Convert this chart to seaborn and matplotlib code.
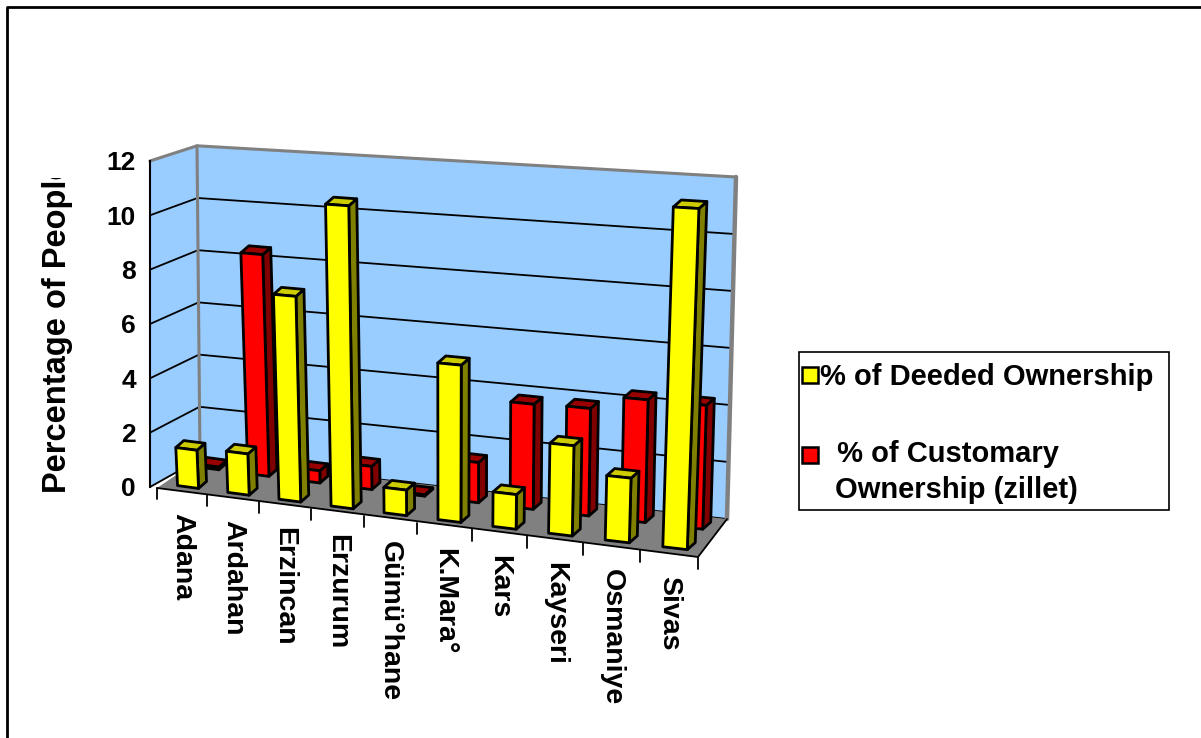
import numpy as np
import pandas as pd
import seaborn as sns
import matplotlib.pyplot as plt
import matplotlib.transforms as mtransforms
from matplotlib.patches import Polygon, Rectangle
from matplotlib.lines import Line2D

# --- DATA ---
provinces = ["Adana", "Ardahan", "Erzincan", "Erzurum", "Gümü°hane",
             "K.Mara°", "Kars", "Kayseri", "Osmaniye", "Sivas"]
deeded    = [1.4, 1.5, 7.4, 10.8, 0.9, 5.5, 1.2, 3.1, 2.2, 11.5]
customary = [0.1, 8.3, 0.45, 0.85, 0.05, 1.45, 3.75, 3.8, 4.3, 4.3]
series    = ["% of Deeded Ownership", " % of Customary\nOwnership (zillet)"]
yticks    = [0, 2, 4, 6, 8, 10, 12]

# --- STYLE ---
W, H      = 1201, 738
YELLOW    = ("#FFFF00", "#CCCC00", "#808000")   # front, top, side
RED       = ("#FF0000", "#990000", "#800000")
WALL      = "#99CCFF"
FLOOR     = "#808080"
AX0, AXS  = 487.0, 27.17       # pixel row of value 0 on the axis, px per unit
AXIS_X    = 150.0
DEPTH     = (8.0, -7.0)        # bar depth offset in pixels

# perspective layers (pixel geometry of each depth plane)
LAYERS = {
    "yellow": dict(A=188.0, B=50.0, Q=0.457, c=0.237, x0=4.94, b0=487.0, b1=6.8, s0=27.2, s1=0.267),
    "red":    dict(A=208.5, B=49.45, Q=0.457, c=0.2, x0=5.0, b0=468.4, b1=6.6, s0=26.4, s1=0.26),
    "wall":   dict(A=224.45, B=49.1, Q=0.4, c=0.1, x0=2.0, b0=462.0, b1=6.0, s0=26.22, s1=0.24),
    "edge":   dict(A=182.1, B=50.41, Q=0.41, c=0.0, x0=0.0, b0=491.45, b1=6.9, s0=27.0, s1=0.2),
}


def project(L, x, y, dpx=0.0, dpy=0.0):
    x = np.asarray(x, float)
    y = np.asarray(y, float)
    px = L["A"] + L["B"] * x + L["Q"] * x ** 2 + L["c"] * (x - L["x0"]) * y + dpx
    py = L["b0"] + L["b1"] * x - y * (L["s0"] + L["s1"] * x) + dpy
    return px, (AX0 - py) / AXS


class Proj(mtransforms.Transform):
    input_dims = 2
    output_dims = 2

    def __init__(self, L):
        super().__init__()
        self.L = L

    def transform_non_affine(self, values):
        values = np.asarray(values, float)
        X, Y = project(self.L, values[:, 0], values[:, 1])
        return np.column_stack([X, Y])


sns.set_style("white")
plt.rcParams["font.family"] = ["Liberation Sans", "DejaVu Sans"]
plt.rcParams["font.weight"] = "bold"
plt.rcParams["text.color"] = "black"
plt.rcParams["axes.labelcolor"] = "black"
plt.rcParams["ytick.color"] = "black"

fig = plt.figure(figsize=(W / 100, H / 100), dpi=100)
ax = fig.add_axes([0, 0, 1, 1])

# ── 1. Bars through seaborn ───────────────────────────────────────────────────
df = pd.DataFrame({
    "Province": provinces * 2,
    "Series": [series[0]] * len(provinces) + [series[1]] * len(provinces),
    "Value": deeded + customary,
})
sns.barplot(data=df, x="Province", y="Value", hue="Series", order=provinces,
            hue_order=series, palette=[YELLOW[0], RED[0]], dodge=False,
            saturation=1, width=0.42, edgecolor="black", linewidth=2,
            legend=False, ax=ax)

# ── 2. Project bars into the 3D look ──────────────────────────────────────────
for cont, lname, cols, z in [(ax.containers[0], "yellow", YELLOW, 3),
                             (ax.containers[1], "red", RED, 2)]:
    L = LAYERS[lname]
    for bar in cont:
        bar.set_transform(Proj(L) + ax.transData)
        bar.set_zorder(z + 0.2)
        bar.set_joinstyle("round")
        x0, w, h = bar.get_x(), bar.get_width(), bar.get_height()
        fx, fy = project(L, [x0, x0 + w, x0 + w, x0], [h, h, 0, 0])
        bx, by = project(L, [x0, x0 + w, x0 + w, x0], [h, h, 0, 0], *DEPTH)
        top = [(fx[0], fy[0]), (fx[1], fy[1]), (bx[1], by[1]), (bx[0], by[0])]
        side = [(fx[1], fy[1]), (fx[2], fy[2]), (bx[2], by[2]), (bx[1], by[1])]
        ax.add_patch(Polygon(side, closed=True, facecolor=cols[2], edgecolor="black",
                             linewidth=2, joinstyle="round", zorder=z))
        ax.add_patch(Polygon(top, closed=True, facecolor=cols[1], edgecolor="black",
                             linewidth=2, joinstyle="round", zorder=z + 0.1))

# ── 3. Walls, floor, gridlines ────────────────────────────────────────────────
Wl = LAYERS["wall"]
xl, xr = -0.5, len(provinces) - 0.5
ymax = yticks[-1]

wx, wy = project(Wl, [xl, xr, xr, xl], [0, 0, ymax, ymax])
ax.add_patch(Polygon(list(zip(wx, wy)), closed=True, facecolor=WALL,
                     edgecolor="none", zorder=0.5))
lx, ly = project(Wl, [xl, xl], [0, ymax])
ax.add_patch(Polygon([(AXIS_X, 0), (AXIS_X, ymax), (lx[1], ly[1]), (lx[0], ly[0])],
                     closed=True, facecolor=WALL, edgecolor="none", zorder=0.5))

for v in yticks[:-1]:
    gx, gy = project(Wl, [xl, xr], [v, v])
    ax.add_line(Line2D(gx, gy, color="black", lw=1.3, zorder=0.6))
    ax.add_line(Line2D([AXIS_X, gx[0]], [v, gy[0]], color="black", lw=1.3, zorder=0.6))

# gray wall edges
tx, ty = project(Wl, [xl, xr], [ymax, ymax])
ax.add_line(Line2D([AXIS_X, tx[0], tx[1]], [ymax, ty[0], ty[1]], color="#808080",
                   lw=2.2, zorder=0.7, solid_joinstyle="round"))
ax.add_line(Line2D(lx, ly, color="#808080", lw=2.2, zorder=0.7))
rx, ry = project(Wl, [xr, xr], [0, ymax])
ax.add_line(Line2D(rx, ry, color="#808080", lw=3.2, zorder=0.7))

# floor
El = LAYERS["edge"]
ex, ey = project(El, [xl, xr], [0, 0])
bfx, bfy = project(Wl, [xr, xl], [0, 0])
ax.add_patch(Polygon([(ex[0], ey[0]), (ex[1], ey[1]), (bfx[0], bfy[0]), (bfx[1], bfy[1])],
                     closed=True, facecolor=FLOOR, edgecolor="none", zorder=0.8))
ax.add_line(Line2D([ex[0], ex[1], bfx[0]], [ey[0], ey[1], bfy[0]], color="black",
                   lw=1.3, zorder=0.9))
for k in range(len(provinces) + 1):
    kx, ky = project(El, [xl + k, xl + k], [0, -0.42])
    ax.add_line(Line2D(kx, ky, color="black", lw=1.3, zorder=0.9))

# category labels along the front edge
for i, name in enumerate(provinces):
    px, py = project(El, i, -0.78)
    ax.text(float(px), float(py), name, rotation=-90, ha="center", va="top",
            fontsize=20.5, fontweight="bold", color="black")

# ── 4. Axes setup ─────────────────────────────────────────────────────────────
ax.set_xlim(0, W)
ax.set_ylim((AX0 - H) / AXS, AX0 / AXS)
ax.set_xticks([])
ax.set_xlabel("")
ax.set_yticks(yticks)
ax.set_yticklabels([str(t) for t in yticks])
ax.tick_params(axis="y", direction="out", length=7, width=1.5, pad=3,
               colors="black", labelsize=19)
for t in ax.get_yticklabels():
    t.set_fontweight("bold")
for s in ["top", "right", "bottom"]:
    ax.spines[s].set_visible(False)
ax.spines["left"].set_position(("data", AXIS_X))
ax.spines["left"].set_bounds(0, ymax)
ax.spines["left"].set_linewidth(1.5)
ax.spines["left"].set_color("black")
ax.spines["left"].set_zorder(1)
ax.patch.set_visible(False)

ax.set_ylabel("Percentage of People", fontsize=23.5, fontweight="bold", color="black")
ax.yaxis.set_label_coords(73 / W, 1 - 327 / H, transform=fig.transFigure)
lab = ax.yaxis.label
lab.set_clip_on(True)
lab.set_clip_box(mtransforms.TransformedBbox(
    mtransforms.Bbox.from_extents(0, 0, 1, 1 - 178 / H), fig.transFigure))

# ── 5. Legend box ─────────────────────────────────────────────────────────────
def fpt(px, py):
    return px / W, 1 - py / H

fig.add_artist(Rectangle(fpt(799, 510), 370 / W, 158 / H, transform=fig.transFigure,
                         facecolor="white", edgecolor="black", lw=1.2))
for (sx, sy), col in [((802, 383), YELLOW[0]), ((802, 463), RED[0])]:
    fig.add_artist(Rectangle(fpt(sx, sy), 16 / W, 16 / H, transform=fig.transFigure,
                             facecolor=col, edgecolor="black", lw=1.8))
fig.text(*fpt(820, 385), series[0], fontsize=21, fontweight="bold",
         va="baseline", color="black")
fig.text(*fpt(829, 462), series[1].split("\n")[0], fontsize=21, fontweight="bold",
         va="baseline", color="black")
fig.text(*fpt(835, 498), series[1].split("\n")[1], fontsize=21, fontweight="bold",
         va="baseline", color="black")

# ── 6. Outer chart frame ──────────────────────────────────────────────────────
fig.add_artist(Line2D([7 / W, 7 / W, 1], [0, 1 - 7 / H, 1 - 7 / H],
                      transform=fig.transFigure, color="black", lw=2))

fig.savefig("out.png", dpi=100, facecolor="white")
